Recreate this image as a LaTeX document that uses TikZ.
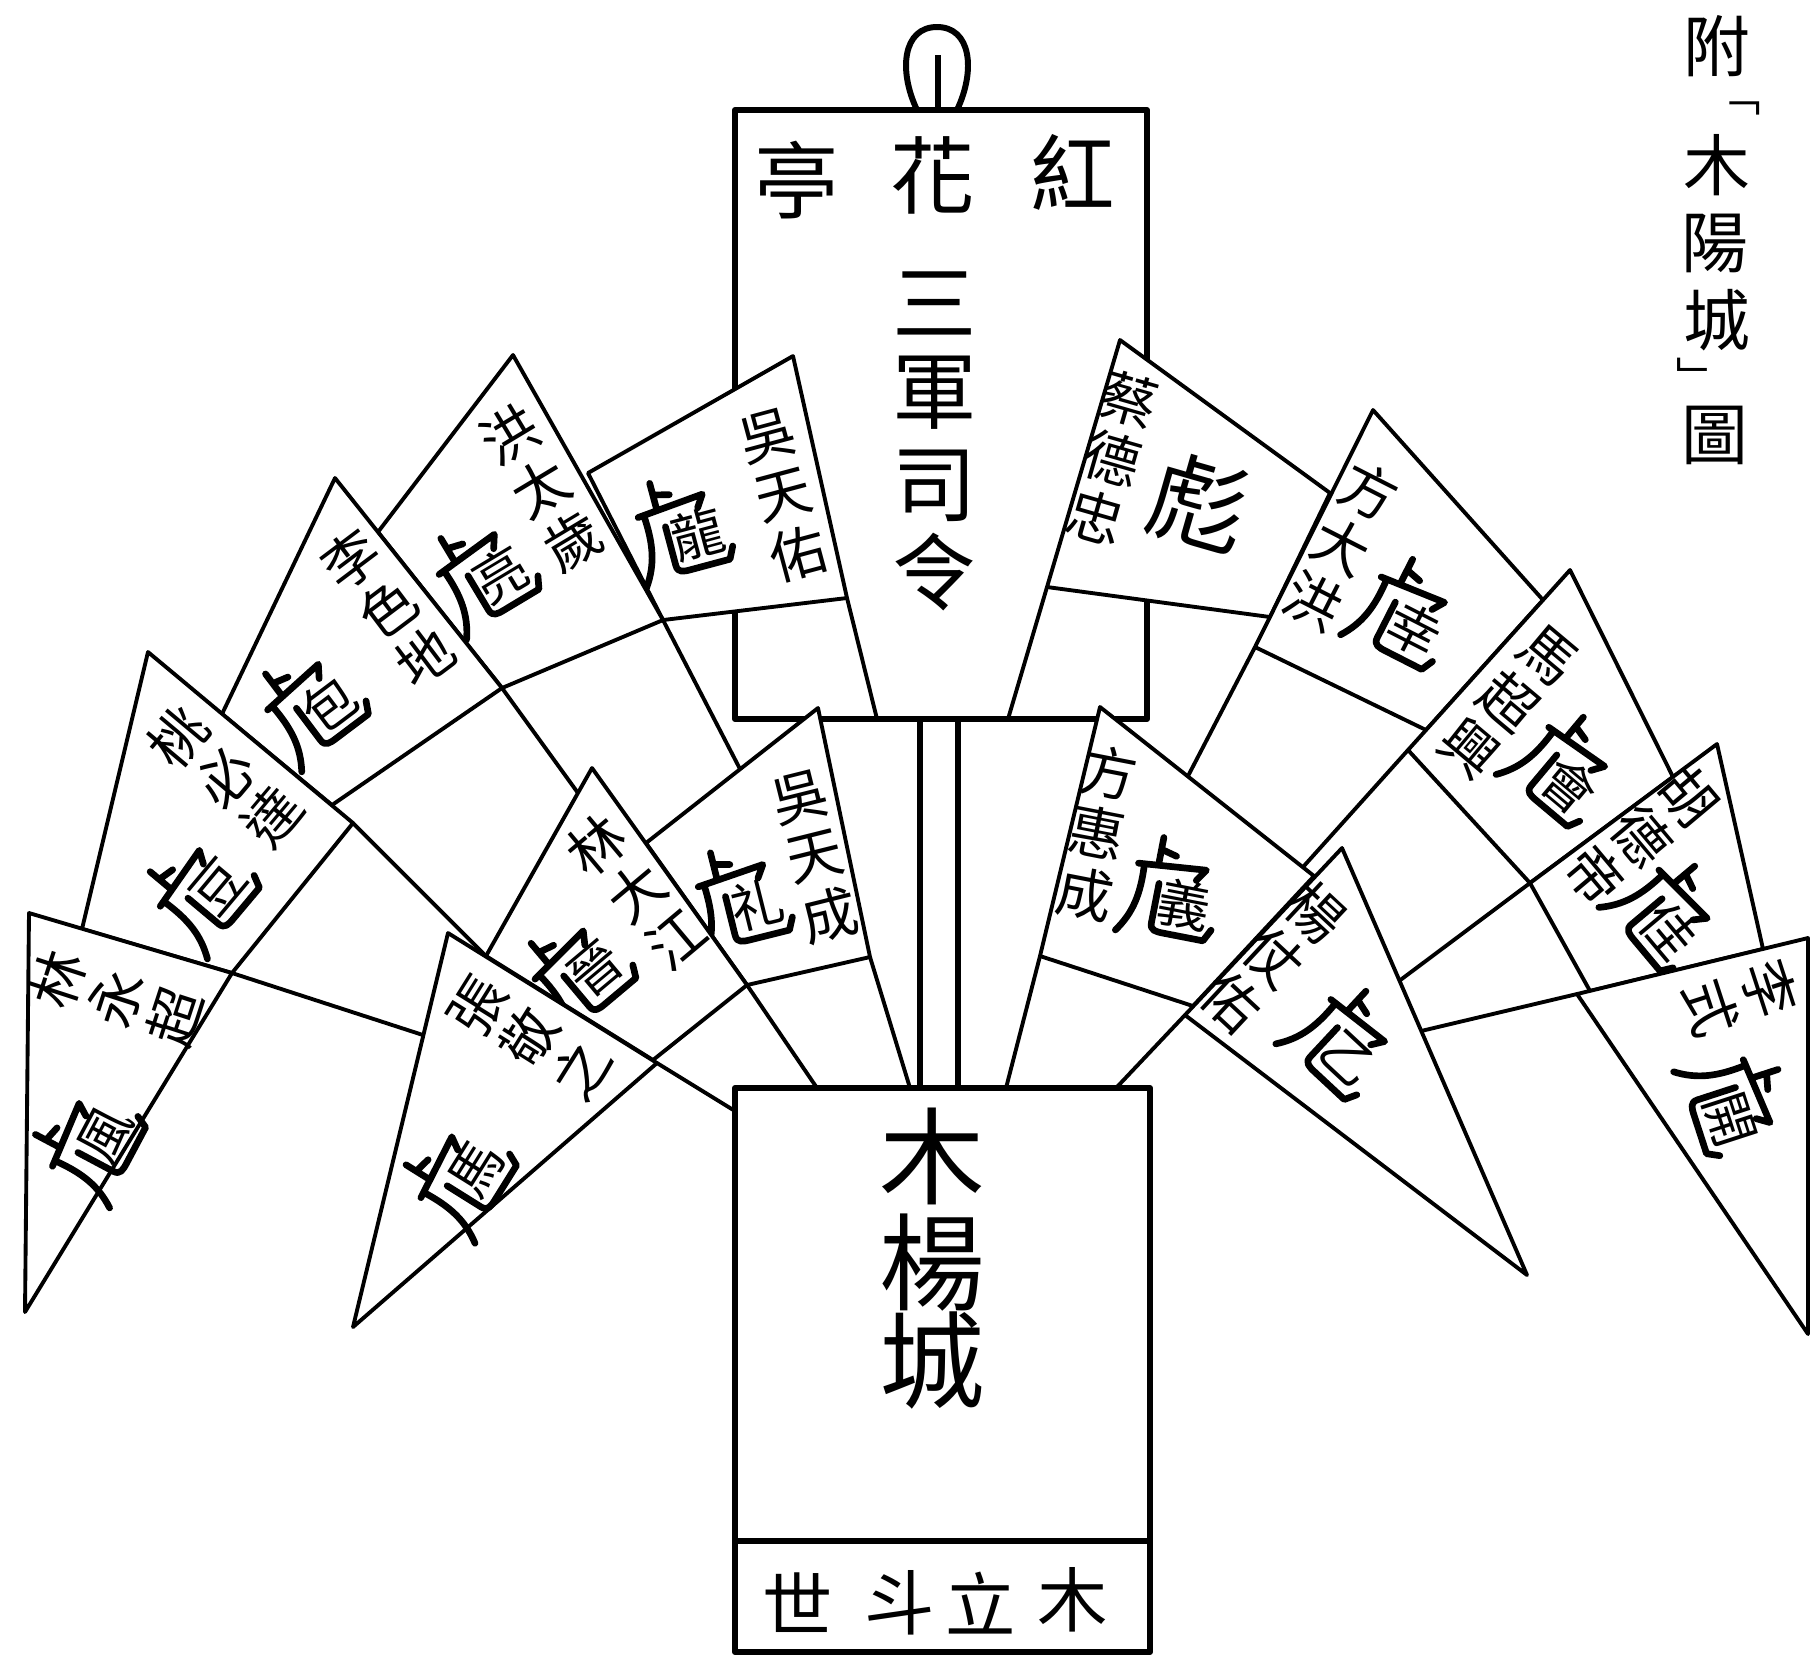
\documentclass[tikz,border=0pt]{standalone}
\usepackage{fontspec}
\newfontfamily\cjk{Noto Sans CJK TC}
\begin{document}
\begin{tikzpicture}[x=0.01cm,y=-0.01cm,
  ln/.style={line width=1.1pt, line join=round, line cap=round},
  bd/.style={line width=1.7pt, line join=round},
  fl/.style={ln, fill=white},
  nm/.style={font=\cjk\fontsize{16}{17.5}\selectfont, inner sep=0pt, align=center},
  bg/.style={font=\cjk\fontsize{28}{28}\selectfont, inner sep=0pt},
  bt/.style={font=\cjk\fontsize{24}{24}\selectfont, inner sep=0pt},
  bb/.style={font=\cjk\fontsize{30}{30}\selectfont, inner sep=0pt},
  bs/.style={font=\cjk\fontsize{20}{20}\selectfont, inner sep=0pt},
  ti/.style={font=\cjk\fontsize{19}{19}\selectfont, inner sep=0pt},
  tk/.style={font=\cjk\fontsize{12}{12}\selectfont, inner sep=0pt},
  hu/.pic={
    \draw[line width=1.9pt, line cap=round, line join=round]
      (-18,-50) -- (-18,-22) (-18,-38) -- (-2,-34)
      (-38,-20) -- (30,-26) -- (22,-14)
      (-32,-20) .. controls (-30,10) and (-34,30) .. (-48,50)
      (-14,-4) -- (-14,36) .. controls (-14,44) and (-8,44) .. (0,44) -- (40,44) -- (46,32);
    \node[font=\cjk\fontsize{15}{15}\selectfont, inner sep=0pt] at (15,12) {#1};
  }]
\useasboundingbox (0,0) rectangle (1813,1656);
% top board
\draw[bd, fill=white] (735,110) rectangle (1147,719);
\draw[bd] (917,110) .. controls (898,70) and (903,27) .. (937,27) .. controls (971,27) and (976,70) .. (957,110);
\draw[bd] (938,55) -- (938,110);
\node[bt] (ta) at (797,180) {亭};
\node[bt] (tb) at (933,175) {花};
\node[bt] (tc) at (1073,172) {紅};
\node[bt] (td) at (935,303) {三};
\node[bt] (te) at (935,393) {軍};
\node[bt] (tf) at (935,486) {司};
\node[bt] (tg) at (935,572) {令};
% central poles
\draw[bd] (920,719) -- (920,1088);
\draw[bd] (958,719) -- (958,1088);
% ---- left upper flags ----
% 吳天佑
\draw[ln] (847,598) -- (877,719);
\draw[fl] (793,356) -- (588,473) -- (663,620) -- (847,598) -- cycle;
\node[nm, rotate=15] (a1) at (783,495) {吳\\天\\佑};
\pic[rotate=15, transform shape] (a4) at (680,527) {hu=龍};
% 洪太歲
\draw[ln] (663,620) -- (740,769);
\draw[fl] (513,355) -- (378,532) -- (502,688) -- (663,620) -- cycle;
\node[nm, rotate=31] (b1) at (541,488) {洪\\太\\歲};
\pic[rotate=31, transform shape] (b4) at (482,572) {hu=亮};
% 李色地
\draw[ln] (502,688) -- (578,793);
\draw[fl] (335,478) -- (222,714) -- (332,805) -- (502,688) -- cycle;
\node[nm, rotate=37] (c1) at (388,608) {李\\色\\地};
\pic[rotate=37, transform shape] (c4) at (310,703) {hu=包};
% 桃必達
\draw[ln] (353,823) -- (486,956);
\draw[fl] (148,652) -- (82,929) -- (232,973) -- (353,823) -- cycle;
\node[nm, rotate=50] (d1) at (225,777) {桃\\必\\達};
\pic[rotate=50, transform shape] (d4) at (200,890) {hu=豆};
% 林永超
\draw[ln] (232,973) -- (423,1035);
\draw[fl] (29,913) -- (25,1312) -- (232,973) -- cycle;
\node[nm, rotate=72] (e1) at (116,998) {林\\永\\超};
\pic[rotate=62, transform shape] (e4) at (88,1142) {hu=風};
% ---- left lower flags ----
% 吳天成
\draw[ln] (870,957) -- (910,1088);
\draw[fl] (818,708) -- (646,843) -- (747,985) -- (870,957) -- cycle;
\node[nm, rotate=14] (f1) at (815,857) {吳\\天\\成};
\pic[rotate=14, transform shape] (f4) at (740,897) {hu=礼};
% 林大江
\draw[ln] (747,985) -- (817,1088);
\draw[fl] (592,768) -- (486,956) -- (653,1060) -- (747,985) -- cycle;
\node[nm, rotate=40] (g1) at (636,892) {林\\大\\江};
\pic[rotate=40, transform shape] (g4) at (577,970) {hu=晉};
% 張敬之
\draw[ln] (657,1063) -- (735,1111);
\draw[fl] (448,933) -- (353,1327) -- (657,1063) -- cycle;
\node[nm, rotate=58] (h1) at (530,1038) {張\\敬\\之};
\pic[rotate=58, transform shape] (h4) at (458,1176) {hu=馬};
% ---- right upper flags ----
% 蔡德忠
\draw[ln] (1047,587) -- (1008,719);
\draw[fl] (1120,340) -- (1330,493) -- (1270,617) -- (1047,587) -- cycle;
\node[nm, rotate=-16] (i1) at (1113,458) {蔡\\德\\忠};
\node[bg, rotate=-16] (i4) at (1199,503) {彪};
% 方大洪
\draw[ln] (1255,647) -- (1188,776);
\draw[fl] (1373,410) -- (1543,600) -- (1426,730) -- (1255,647) -- cycle;
\node[nm, rotate=-27] (j1) at (1341,546) {方\\大\\洪};
\pic[rotate=-27, transform shape] (j4) at (1406,612) {hu=幸};
% 馬超興
\draw[ln] (1408,750) -- (1303,867);
\draw[fl] (1570,570) -- (1673,777) -- (1530,883) -- (1408,750) -- cycle;
\node[nm, rotate=-40] (k1) at (1508,702) {馬\\超\\興};
\pic[rotate=-40, transform shape] (k4) at (1565,767) {hu=會};
% 胡德帝
\draw[ln] (1530,883) -- (1399,981);
\draw[fl] (1717,744) -- (1763,949) -- (1590,991) -- (1530,883) -- cycle;
\node[nm, rotate=-50] (l1) at (1642,836) {胡\\德\\帝};
\pic[rotate=-50, transform shape] (l4) at (1668,912) {hu=佳};
% 李式開
\draw[ln] (1577,994) -- (1421,1031);
\draw[fl] (1808,938) -- (1808,1334) -- (1577,994) -- cycle;
\node[nm, rotate=-72] (m1) at (1740,998) {李\\式};
\pic[rotate=-72, transform shape] (m4) at (1736,1102) {hu=開};
% ---- right lower flags ----
% 方惠成
\draw[ln] (1040,956) -- (1006,1088);
\draw[fl] (1100,707) -- (1314,876) -- (1193,1006) -- (1040,956) -- cycle;
\node[nm, rotate=-11] (n1) at (1097,833) {方\\惠\\成};
\pic[rotate=-11, transform shape] (n4) at (1172,890) {hu=義};
% 楊仗佑
\draw[ln] (1185,1015) -- (1116,1088);
\draw[fl] (1342,848) -- (1527,1275) -- (1185,1015) -- cycle;
\node[nm, rotate=-43] (o1) at (1274,957) {楊\\仗\\佑};
\pic[rotate=-43, transform shape] (o4) at (1345,1040) {hu=乙};
% bottom board
\draw[bd, fill=white] (735,1088) rectangle (1150,1652);
\draw[bd] (735,1541) -- (1150,1541);
\node[bb] (u1) at (932,1156) {木};
\node[bb] (u2) at (932,1263) {楊};
\node[bb] (u3) at (932,1360) {城};
\node[bs] (v1) at (798,1603) {世};
\node[bs] (v2) at (900,1603) {斗};
\node[bs] (v3) at (981,1603) {立};
\node[bs] (v4) at (1073,1600) {木};
% title
\node[ti] (w1) at (1717,46) {附};
\node[tk] (w2) at (1740,108) {﹁};
\node[ti] (w3) at (1717,165) {木};
\node[ti] (w4) at (1715,243) {陽};
\node[ti] (w5) at (1717,320) {城};
\node[tk] (w6) at (1698,376) {﹂};
\node[ti] (w7) at (1715,435) {圖};
\end{tikzpicture}
\end{document}
